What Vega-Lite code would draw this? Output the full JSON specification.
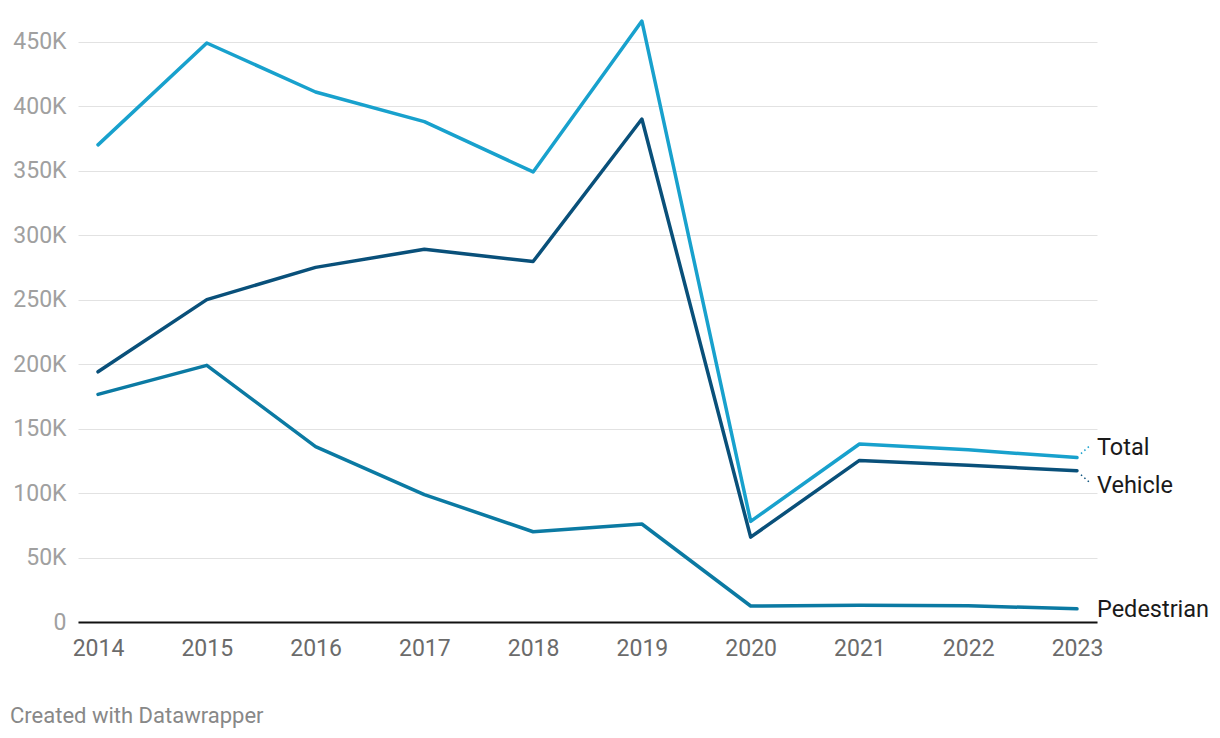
{
  "$schema": "https://vega.github.io/schema/vega-lite/v6.json",
  "autosize": "none",
  "width": 1019,
  "height": 619,
  "padding": {"left": 78, "top": 3, "right": 123, "bottom": 116},
  "background": "white",
  "config": {
    "font": "Roboto",
    "view": {"stroke": null}
  },
  "title": {
    "text": "Created with Datawrapper",
    "orient": "bottom",
    "anchor": "start",
    "frame": "group",
    "dx": -68,
    "offset": 46,
    "fontSize": 22,
    "fontWeight": "normal",
    "color": "#888888",
    "font": "Roboto"
  },
  "data": {
    "values": [
      {"year": 2014, "series": "Total", "value": 370000},
      {"year": 2015, "series": "Total", "value": 449000},
      {"year": 2016, "series": "Total", "value": 411000},
      {"year": 2017, "series": "Total", "value": 388000},
      {"year": 2018, "series": "Total", "value": 349000},
      {"year": 2019, "series": "Total", "value": 466000},
      {"year": 2020, "series": "Total", "value": 78000},
      {"year": 2021, "series": "Total", "value": 138000},
      {"year": 2022, "series": "Total", "value": 133500},
      {"year": 2023, "series": "Total", "value": 127500},
      {"year": 2014, "series": "Vehicle", "value": 194000},
      {"year": 2015, "series": "Vehicle", "value": 250000},
      {"year": 2016, "series": "Vehicle", "value": 275000},
      {"year": 2017, "series": "Vehicle", "value": 289000},
      {"year": 2018, "series": "Vehicle", "value": 279500},
      {"year": 2019, "series": "Vehicle", "value": 390000},
      {"year": 2020, "series": "Vehicle", "value": 65800},
      {"year": 2021, "series": "Vehicle", "value": 125300},
      {"year": 2022, "series": "Vehicle", "value": 121500},
      {"year": 2023, "series": "Vehicle", "value": 117300},
      {"year": 2014, "series": "Pedestrian", "value": 176500},
      {"year": 2015, "series": "Pedestrian", "value": 199000},
      {"year": 2016, "series": "Pedestrian", "value": 136000},
      {"year": 2017, "series": "Pedestrian", "value": 98800},
      {"year": 2018, "series": "Pedestrian", "value": 70000},
      {"year": 2019, "series": "Pedestrian", "value": 76000},
      {"year": 2020, "series": "Pedestrian", "value": 12400},
      {"year": 2021, "series": "Pedestrian", "value": 13000},
      {"year": 2022, "series": "Pedestrian", "value": 12600},
      {"year": 2023, "series": "Pedestrian", "value": 10200}
    ]
  },
  "encoding": {
    "x": {
      "field": "year",
      "type": "quantitative",
      "scale": {"domain": [2013.816, 2023.184], "nice": false, "zero": false},
      "axis": {
        "title": null,
        "values": [2014, 2015, 2016, 2017, 2018, 2019, 2020, 2021, 2022, 2023],
        "format": "d",
        "grid": false,
        "ticks": false,
        "domain": true,
        "domainColor": "#111111",
        "domainWidth": 2,
        "labelFontSize": 23,
        "labelColor": "#6b6b6b",
        "labelPadding": 15,
        "labelFont": "Roboto"
      }
    },
    "y": {
      "field": "value",
      "type": "quantitative",
      "scale": {"domain": [0, 480000], "nice": false},
      "axis": {
        "title": null,
        "values": [0, 50000, 100000, 150000, 200000, 250000, 300000, 350000, 400000, 450000],
        "labelExpr": "datum.value == 0 ? '0' : format(datum.value / 1000, 'd') + 'K'",
        "grid": true,
        "gridColor": "#e2e2e2",
        "gridWidth": 1,
        "ticks": false,
        "domain": false,
        "labelFontSize": 23,
        "labelColor": "#a0a0a0",
        "labelPadding": 12,
        "labelFont": "Roboto"
      }
    },
    "color": {
      "field": "series",
      "type": "nominal",
      "scale": {
        "domain": ["Total", "Vehicle", "Pedestrian"],
        "range": ["#18a1cd", "#09507a", "#0b7aa3"]
      },
      "legend": null
    }
  },
  "layer": [
    {
      "mark": {"type": "line", "strokeWidth": 3.5, "strokeCap": "round", "strokeJoin": "round"},
      "encoding": {"detail": {"field": "series"}}
    },
    {
      "transform": [{"filter": "datum.year == 2023 && datum.series == 'Total'"}],
      "mark": {"type": "rule", "strokeWidth": 1.5, "strokeDash": [1.5, 3], "xOffset": 4, "yOffset": -4, "x2Offset": 13, "y2Offset": -12},
      "encoding": {"x2": {"field": "year"}, "y2": {"field": "value"}}
    },
    {
      "transform": [{"filter": "datum.year == 2023 && datum.series == 'Vehicle'"}],
      "mark": {"type": "rule", "strokeWidth": 1.5, "strokeDash": [1.5, 3], "xOffset": 4, "yOffset": 4, "x2Offset": 13, "y2Offset": 12},
      "encoding": {"x2": {"field": "year"}, "y2": {"field": "value"}}
    },
    {
      "transform": [{"filter": "datum.year == 2023 && datum.series == 'Total'"}],
      "mark": {"type": "text", "align": "left", "baseline": "middle", "dx": 20, "dy": -10, "fontSize": 23.5, "font": "Roboto"},
      "encoding": {"text": {"field": "series"}, "color": {"value": "#1a1a1a"}}
    },
    {
      "transform": [{"filter": "datum.year == 2023 && datum.series == 'Vehicle'"}],
      "mark": {"type": "text", "align": "left", "baseline": "middle", "dx": 20, "dy": 15, "fontSize": 23.5, "font": "Roboto"},
      "encoding": {"text": {"field": "series"}, "color": {"value": "#1a1a1a"}}
    },
    {
      "transform": [{"filter": "datum.year == 2023 && datum.series == 'Pedestrian'"}],
      "mark": {"type": "text", "align": "left", "baseline": "middle", "dx": 20, "dy": 1, "fontSize": 23.5, "font": "Roboto"},
      "encoding": {"text": {"field": "series"}, "color": {"value": "#1a1a1a"}}
    }
  ]
}
